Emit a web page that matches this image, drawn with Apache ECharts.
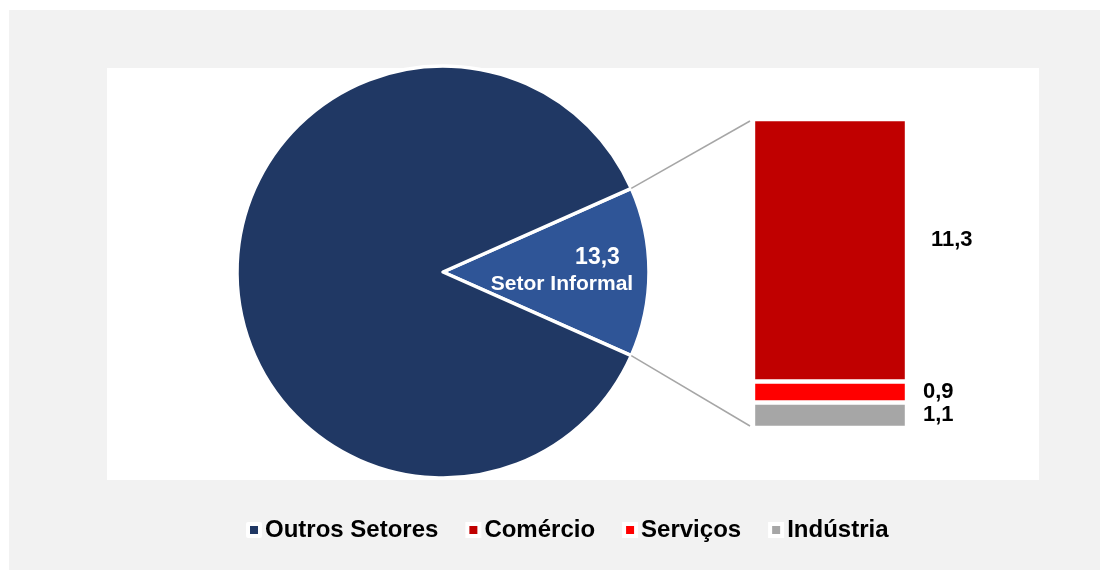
<!DOCTYPE html>
<html>
<head>
<meta charset="utf-8">
<script src="https://cdn.jsdelivr.net/npm/echarts/dist/echarts.min.js"></script>
<style>
  html, body { margin: 0; padding: 0; background: #fff; }
  #chart { width: 1100px; height: 570px; }
</style>
</head>
<body>
<div id="chart"></div>
<script>
// Pie: share of the informal sector vs. all other sectors (%)
const pieNames = ['Setor Informal', 'Outros Setores'];
const pieValues = [13.3, 86.7];
const pieColors = ['#2f5597', '#203864'];

// Breakdown of the informal sector (stacked from the bottom up)
const barNames = ['Indústria', 'Serviços', 'Comércio'];
const barValues = [1.1, 0.9, 11.3];
const barColors = ['#a6a6a6', '#ff0000', '#c00000'];

const legendNames = ['Outros Setores', 'Comércio', 'Serviços', 'Indústria'];

const FONT = "'Liberation Sans', Arial, sans-serif";
const fmt = v => v.toFixed(1).replace('.', ',');

// Layout
const PIE_CX = 443, PIE_CY = 272, PIE_R = 206;
const BAR_LEFT = 753, BAR_WIDTH = 154, BAR_TOP = 119, BAR_BOTTOM = 428;

const pieTotal = pieValues.reduce((a, b) => a + b, 0);
const halfAngle = pieValues[0] / pieTotal * 180; // degrees
const barTotal = barValues.reduce((a, b) => a + b, 0);

const chart = echarts.init(document.getElementById('chart'), null, { renderer: 'canvas' });

const barLabelDistance = [16, 16, 24];
const barLabelOffset = [[0, 0], [0, 0], [0, -10]];

const backgrounds = [
  { type: 'rect', z: -10, shape: { x: 9, y: 10, width: 1091, height: 560 }, style: { fill: '#f2f2f2' } },
  { type: 'rect', z: -9, shape: { x: 107, y: 68, width: 932, height: 412 }, style: { fill: '#ffffff' } }
];

const option = {
  backgroundColor: '#ffffff',
  animation: false,
  textStyle: { fontFamily: FONT },
  graphic: backgrounds,
  legend: {
    data: legendNames,
    left: 241,
    top: 513,
    padding: 5,
    icon: 'rect',
    itemWidth: 12,
    itemHeight: 12,
    itemGap: 27,
    selectedMode: false,
    itemStyle: { borderColor: '#ffffff', borderWidth: 4 },
    textStyle: { fontFamily: FONT, fontSize: 24, fontWeight: 'bold', color: '#000', lineHeight: 24 }
  },
  grid: {
    left: BAR_LEFT, width: BAR_WIDTH,
    top: BAR_TOP, height: BAR_BOTTOM - BAR_TOP,
    containLabel: false
  },
  xAxis: { type: 'category', data: ['Setor Informal'], show: false },
  yAxis: { type: 'value', min: 0, max: barTotal, show: false, splitLine: { show: false } },
  series: [
    {
      type: 'pie',
      center: [PIE_CX, PIE_CY],
      radius: [0, PIE_R],
      startAngle: halfAngle,
      clockwise: true,
      silent: true,
      labelLine: { show: false },
      itemStyle: { borderColor: '#ffffff', borderWidth: 3.5 },
      label: {
        show: true,
        position: 'inside',
        overflow: 'none',
        color: '#ffffff',
        fontFamily: FONT,
        fontWeight: 'bold',
        formatter: p => '{a|' + fmt(p.value) + '}\n{b|' + p.name + '}',
        rich: {
          a: { fontSize: 23, fontWeight: 'bold', color: '#fff', fontFamily: FONT, lineHeight: 27, padding: [0, 0, 0, 71] },
          b: { fontSize: 21, fontWeight: 'bold', color: '#fff', fontFamily: FONT, lineHeight: 27 }
        }
      },
      labelLayout: { dx: 6.5, dy: -0.5 },
      data: pieNames.map((n, i) => ({
        name: n,
        value: pieValues[i],
        itemStyle: { color: pieColors[i] },
        label: { show: i === 0 }
      }))
    }
  ].concat(barNames.map((n, i) => ({
    type: 'bar',
    name: n,
    stack: 'informal',
    barWidth: '100%',
    silent: true,
    itemStyle: { color: barColors[i], borderColor: '#ffffff', borderWidth: 2.2 },
    label: {
      show: true,
      position: 'right',
      distance: barLabelDistance[i],
      offset: barLabelOffset[i],
      fontFamily: FONT,
      fontSize: 22,
      fontWeight: 'bold',
      color: '#000',
      formatter: p => fmt(p.value)
    },
    data: [barValues[i]]
  })))
};

chart.setOption(option);

// Connector lines from the informal slice edges to the top and bottom of the stack
const rad = halfAngle * Math.PI / 180;
const sx = PIE_CX + PIE_R * Math.cos(rad);
const syTop = PIE_CY - PIE_R * Math.sin(rad);
const syBot = PIE_CY + PIE_R * Math.sin(rad);
const yTop = chart.convertToPixel({ yAxisIndex: 0 }, barTotal) + 2;
const yBot = chart.convertToPixel({ yAxisIndex: 0 }, 0) - 2;
const ex = BAR_LEFT - 3;

chart.setOption({
  graphic: backgrounds.concat([
    { type: 'line', z: 10, shape: { x1: sx, y1: syTop, x2: ex, y2: yTop }, style: { stroke: '#a6a6a6', lineWidth: 1.5 } },
    { type: 'line', z: 10, shape: { x1: sx, y1: syBot, x2: ex, y2: yBot }, style: { stroke: '#a6a6a6', lineWidth: 1.5 } }
  ])
});
</script>
</body>
</html>
